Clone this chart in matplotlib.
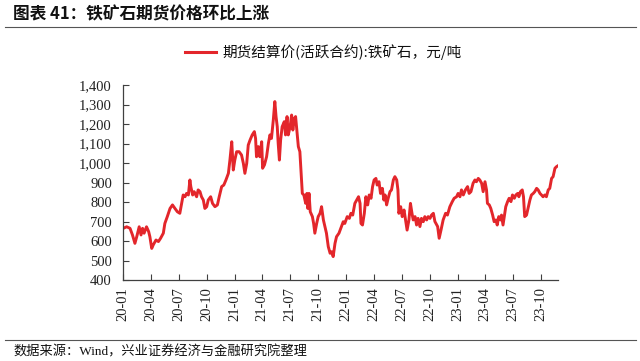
import numpy as np
import matplotlib
matplotlib.use("Agg")
import matplotlib.pyplot as plt
import matplotlib.dates as mdates
from matplotlib.ticker import FuncFormatter, MultipleLocator
from matplotlib.lines import Line2D

# ---- data ----
title = "图表 41：铁矿石期货价格环比上涨"
series_name = "期货结算价(活跃合约):铁矿石，元/吨"
source = "数据来源：Wind，兴业证券经济与金融研究院整理"

# x positions: days since 2020-01-01
days_since_2020_01_01 = [
    1, 12, 23, 31, 39, 45, 53, 59, 64, 69, 77, 84, 88, 94, 99, 108, 116, 123, 132, 137,
    145, 154, 162, 170, 178, 186, 192, 197, 203, 208, 214, 219, 222, 228, 233, 241, 246, 252, 257, 263,
    268, 274, 279, 287, 293, 301, 309, 315, 323, 330, 337, 341, 345, 350, 356, 361, 366, 372, 380, 388,
    394, 399, 405, 410, 416, 423, 430, 434, 437, 443, 448, 454, 457, 463, 470, 476, 481, 486, 492, 497,
    501, 505, 508, 512, 516, 521, 528, 532, 537, 541, 547, 552, 556, 561, 565, 569, 574, 579, 583, 587,
    592, 598, 602, 605, 609, 613, 620, 624, 628, 634, 639, 645, 650, 656, 661, 666, 672, 678, 683, 688,
    694, 699, 707, 713, 721, 726, 734, 741, 746, 752, 759, 765, 771, 776, 779, 784, 790, 795, 801, 806,
    812, 817, 822, 828, 832, 838, 843, 849, 854, 858, 863, 868, 874, 879, 885, 890, 896, 900, 903, 909,
    914, 920, 925, 930, 936, 941, 946, 950, 956, 961, 966, 972, 977, 983, 988, 994, 999, 1005, 1010, 1016,
    1021, 1030, 1035, 1041, 1048, 1056, 1062, 1070, 1078, 1084, 1092, 1097, 1103, 1108, 1114, 1121, 1128, 1133, 1139, 1146,
    1152, 1157, 1163, 1168, 1174, 1179, 1185, 1190, 1193, 1199, 1204, 1210, 1215, 1221, 1225, 1230, 1236, 1239, 1244, 1248,
    1253, 1259, 1264, 1270, 1275, 1281, 1286, 1292, 1296, 1301, 1307, 1311, 1315, 1321, 1326, 1332, 1337, 1343, 1348, 1354,
    1359, 1365, 1370, 1375, 1381, 1386, 1392, 1397, 1403, 1408, 1414, 1419, 1423,
]
price = [
    665, 673, 665, 631, 588, 622, 673, 631, 665, 640, 673, 648, 622, 562, 580, 605, 597, 614, 640, 690,
    725, 767, 785, 767, 750, 742, 793, 836, 827, 844, 836, 913, 879, 836, 853, 827, 862, 853, 827, 810,
    767, 776, 810, 827, 793, 776, 785, 827, 879, 887, 913, 930, 947, 1015, 1109, 964, 1015, 1058, 1058, 1041,
    998, 947, 998, 1092, 1118, 1144, 1161, 1126, 1032, 1084, 1032, 1109, 973, 990, 1032, 1101, 1144, 1126, 1220, 1315,
    1238, 1186, 1101, 1015, 1118, 1186, 1212, 1144, 1238, 1144, 1186, 1246, 1169, 1229, 1238, 1169, 1084, 1058, 947, 844,
    836, 793, 844, 767, 844, 750, 725, 690, 640, 690, 725, 742, 776, 708, 674, 640, 571, 537, 545, 520,
    588, 622, 640, 665, 699, 690, 725, 716, 742, 733, 793, 810, 827, 793, 690, 682, 742, 827, 785, 836,
    819, 879, 913, 921, 887, 904, 844, 870, 810, 836, 785, 819, 853, 862, 913, 930, 913, 862, 742, 776,
    725, 759, 708, 656, 708, 793, 742, 708, 725, 682, 716, 674, 716, 699, 725, 708, 725, 716, 733, 742,
    700, 674, 614, 656, 708, 742, 733, 776, 802, 819, 827, 844, 827, 862, 836, 862, 879, 844, 853, 896,
    913, 904, 921, 913, 896, 853, 904, 862, 793, 785, 767, 733, 699, 708, 682, 725, 708, 733, 682, 725,
    776, 802, 819, 802, 836, 819, 836, 844, 827, 853, 862, 827, 725, 733, 767, 810, 836, 844, 853, 870,
    862, 844, 836, 827, 836, 827, 862, 870, 921, 930, 973, 981, 985,
]
x_start = "2020-01-01"
x_end = "2023-11-25"
y_min, y_max, y_step = 400, 1400, 100

# ---- figure ----
plt.rcParams['font.family'] = ['Liberation Serif', 'Noto Sans CJK SC', 'DejaVu Sans']
fig = plt.figure(figsize=(6.4, 3.61), dpi=100)
ax = fig.add_axes([123 / 640, 1 - 280 / 361, (558 - 123) / 640, (280 - 85) / 361])

dates = np.datetime64(x_start) + np.array(days_since_2020_01_01).astype('timedelta64[D]')
red = '#E3262B'
ax.plot(dates, price, color=red, lw=2.1, solid_joinstyle='round')

ax.set_xlim(np.datetime64(x_start), np.datetime64(x_end))
ax.set_ylim(y_min, y_max)
ax.yaxis.set_major_locator(MultipleLocator(y_step))
ax.yaxis.set_major_formatter(FuncFormatter(lambda v, p: f"{int(v):,}"))
ax.xaxis.set_major_locator(mdates.MonthLocator(bymonth=[1, 4, 7, 10]))
ax.xaxis.set_major_formatter(mdates.DateFormatter('%y-%m'))

for s in ['top', 'right']:
    ax.spines[s].set_visible(False)
for s in ['left', 'bottom']:
    ax.spines[s].set_color('#404040')
    ax.spines[s].set_linewidth(0.9)
ax.tick_params(axis='both', direction='in', length=4, width=0.8, color='#404040',
               labelsize=10.5, labelcolor='#222222')
ax.tick_params(axis='x', pad=5)
ax.tick_params(axis='y', pad=8)
for lab in ax.get_xticklabels():
    lab.set_rotation(90)
    lab.set_family('Liberation Serif')
for lab in ax.get_yticklabels():
    lab.set_family('Liberation Serif')

# title and rules
fig.text(13 / 640, 1 - 14 / 361, title, fontsize=12, fontweight='bold',
         family=['Noto Sans CJK SC', 'DejaVu Sans'], va='center', ha='left', color='#111111')
fig.add_artist(Line2D([5 / 640, 636 / 640], [1 - 27 / 361, 1 - 27 / 361], color='#555555', lw=0.8))
fig.add_artist(Line2D([5 / 640, 636 / 640], [1 - 340 / 361, 1 - 340 / 361], color='#555555', lw=0.8))
fig.text(13 / 640, 1 - 352 / 361, source, fontsize=9.5,
         family=['Liberation Serif', 'Noto Sans CJK SC'], va='center', ha='left', color='#111111')

# legend
fig.add_artist(Line2D([185 / 640, 216 / 640], [1 - 52 / 361, 1 - 52 / 361], color=red, lw=2.2))
fig.text(222 / 640, 1 - 52 / 361, series_name, fontsize=10.5,
         family=['Noto Sans CJK SC', 'DejaVu Sans'], va='center', ha='left', color='#111111')

fig.savefig('out.png', dpi=100)
